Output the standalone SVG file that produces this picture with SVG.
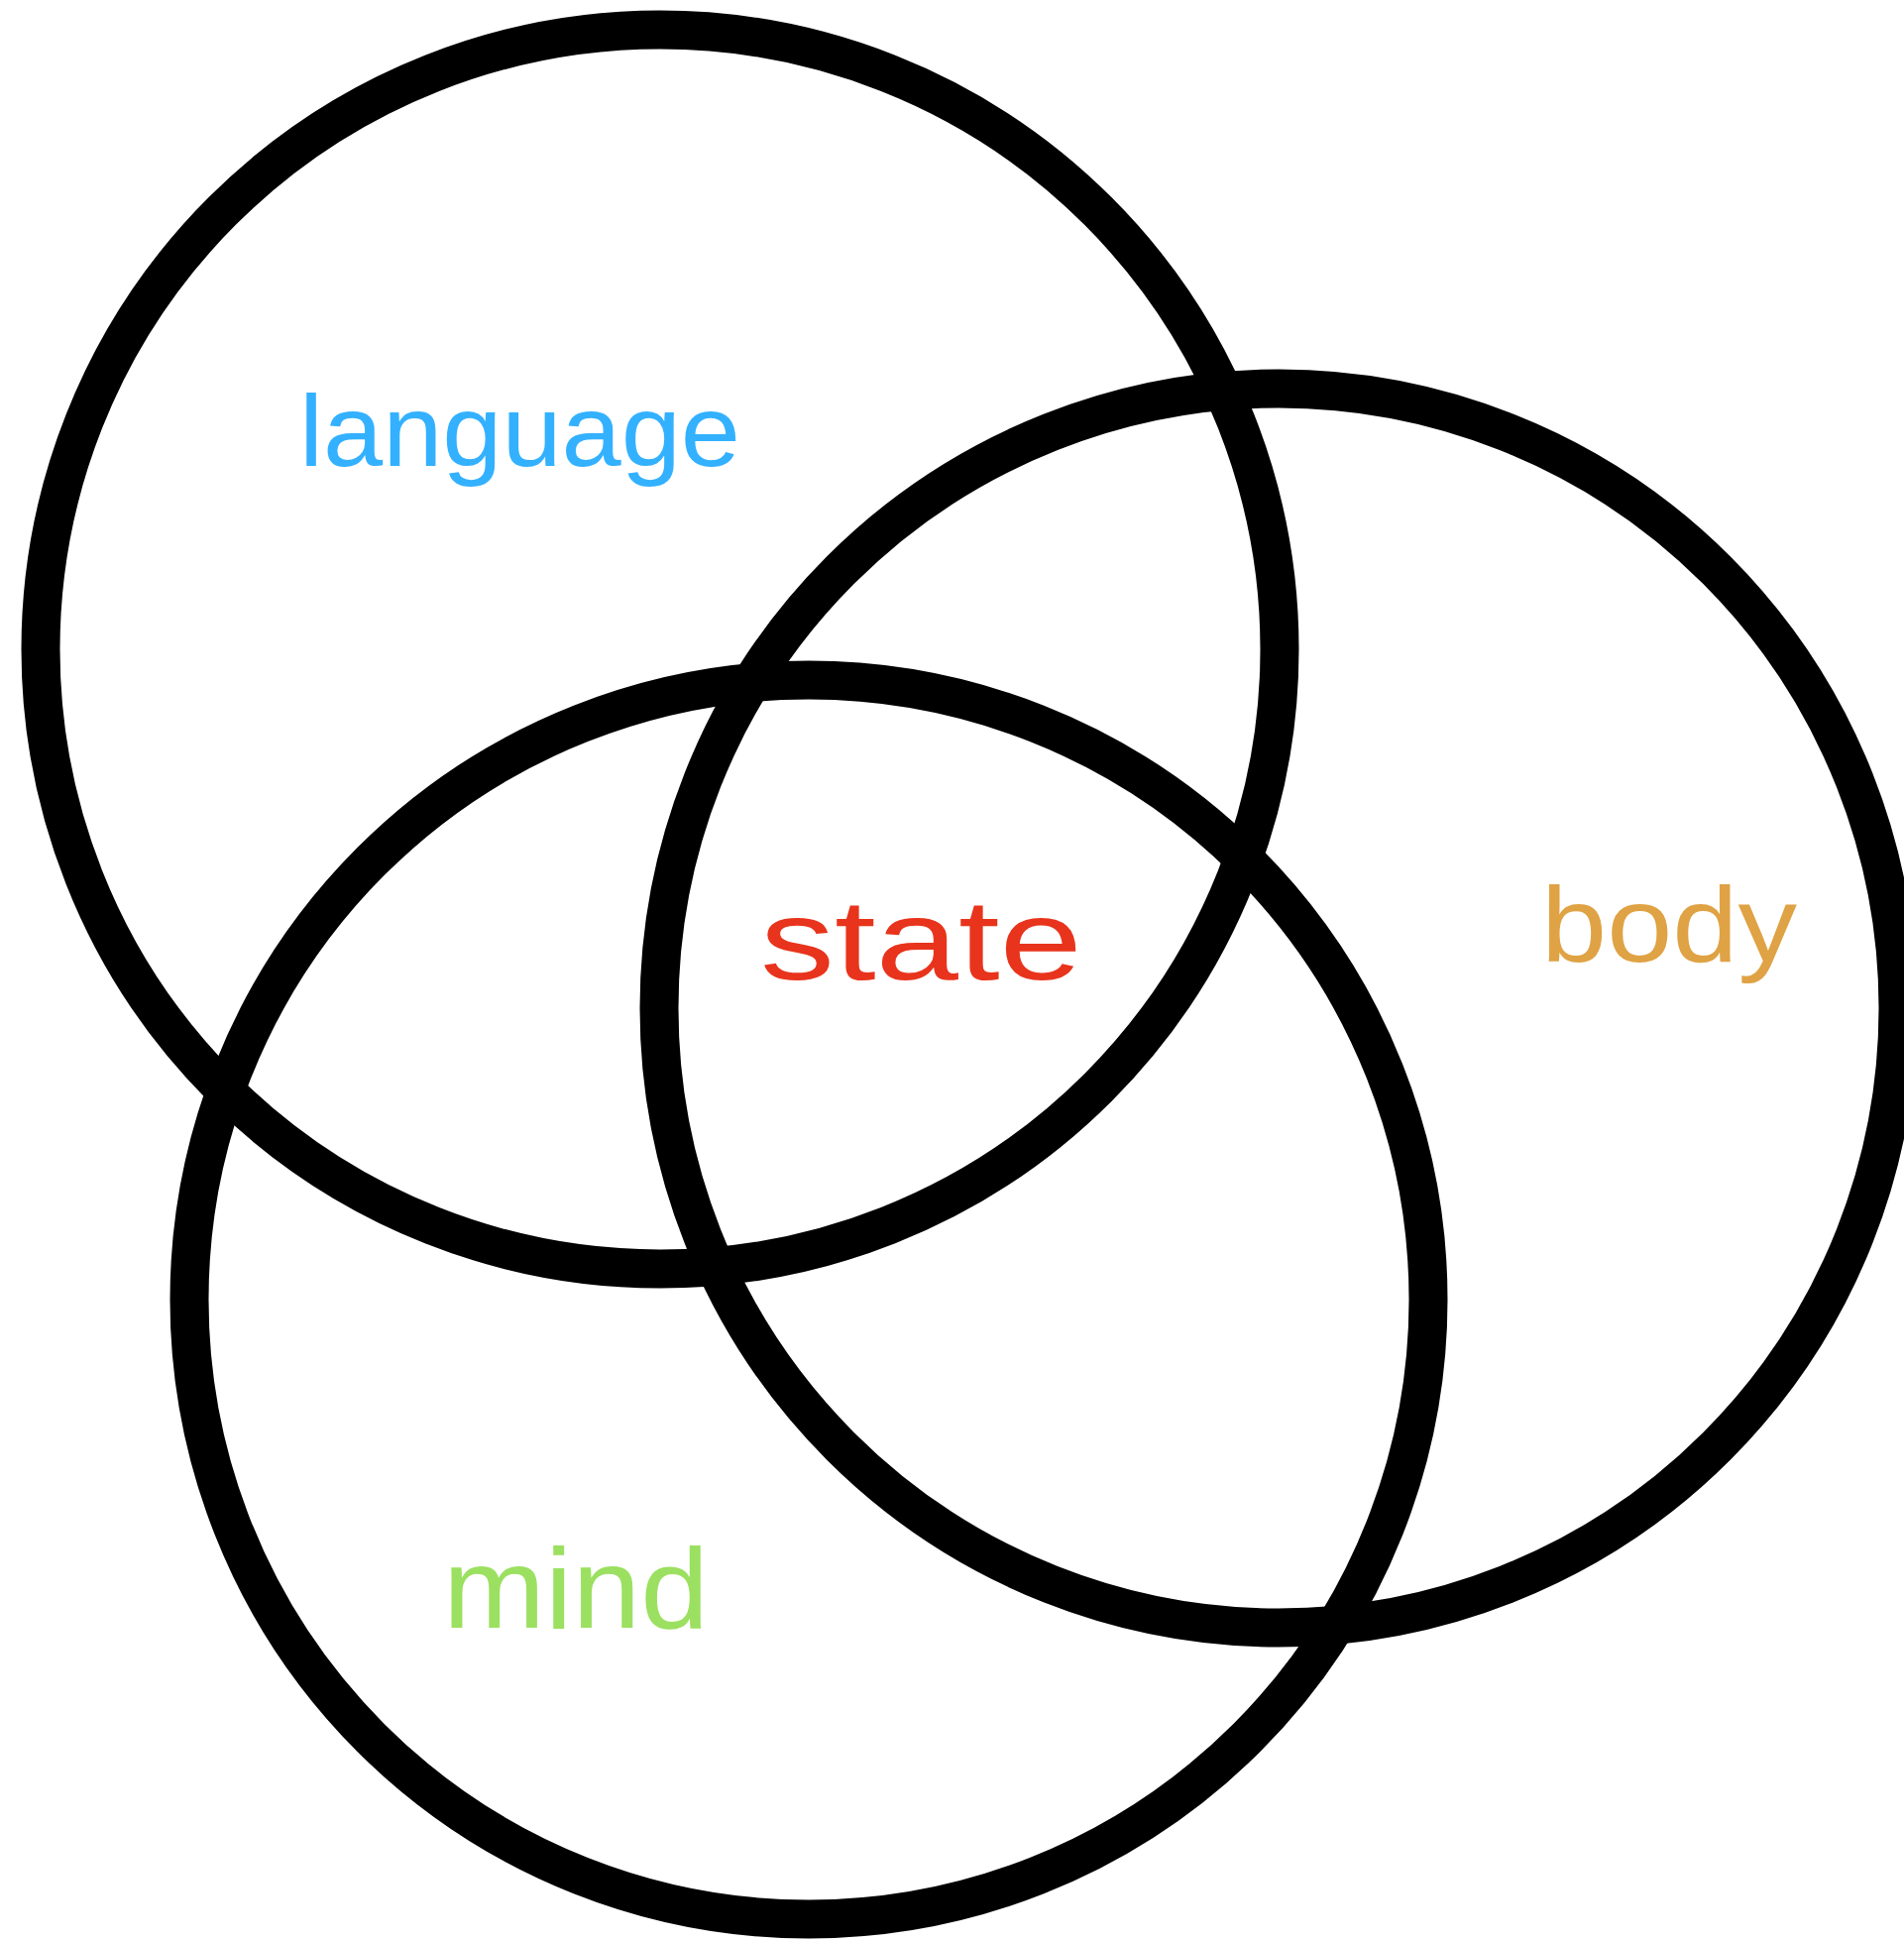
<svg xmlns="http://www.w3.org/2000/svg" width="1921" height="1958" viewBox="0 0 1921 1958">
<style>
.ring{fill:none;stroke:#000;stroke-width:39}
.lbl{font-family:"Liberation Sans","DejaVu Sans",sans-serif}
</style>
<rect width="1921" height="1958" fill="#fff"/>
<g id="connectors"></g>
<g id="language-circle"><circle class="ring" cx="666" cy="655" r="625"/></g>
<g id="body-circle"><circle class="ring" cx="1290" cy="1017" r="625"/></g>
<g id="mind-circle"><circle class="ring" cx="816" cy="1311" r="625"/></g>
<g id="language"><text class="lbl" x="302" y="470" font-size="102" fill="#33b1ff" textLength="445" lengthAdjust="spacingAndGlyphs">language</text></g>
<g id="state"><text class="lbl" x="767" y="988" font-size="115" fill="#e8341c" textLength="325" lengthAdjust="spacingAndGlyphs">state</text></g>
<g id="body"><text class="lbl" x="1555" y="970" font-size="108" fill="#dfa244" textLength="258" lengthAdjust="spacingAndGlyphs">body</text></g>
<g id="mind"><text class="lbl" x="447" y="1642" font-size="115" fill="#9be060" textLength="268" lengthAdjust="spacingAndGlyphs">mind</text></g>
</svg>
